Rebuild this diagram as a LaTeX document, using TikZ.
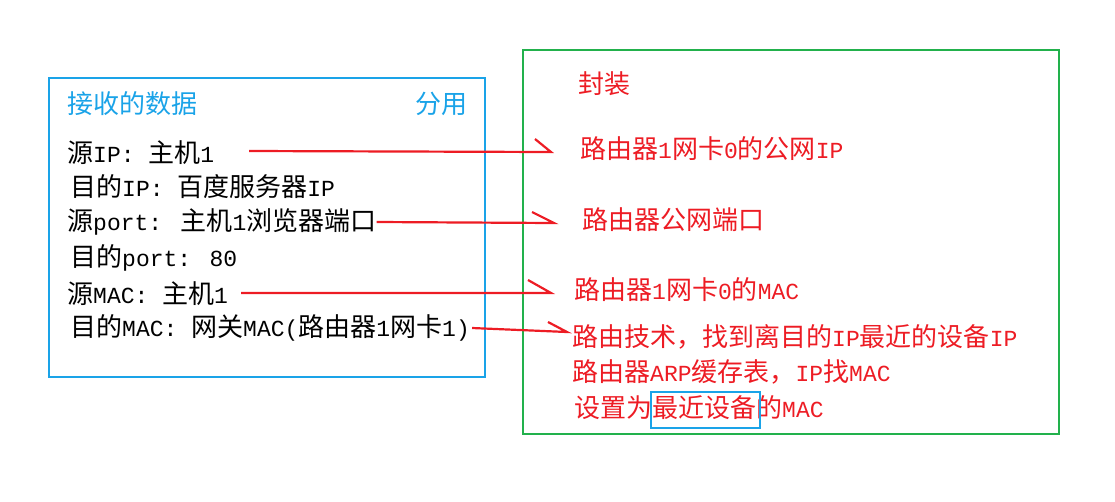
\documentclass[tikz,border=0pt]{standalone}
\usepackage{fontspec}
\setmainfont{Noto Sans CJK SC}
\newfontfamily\lm{Liberation Mono}
\newcommand{\m}[1]{{\lm\fontsize{23}{26}\selectfont #1}}
\definecolor{bblue}{HTML}{1AA3E8}
\definecolor{ggreen}{HTML}{22B14C}
\definecolor{rred}{HTML}{ED1C24}
\begin{document}
\begin{tikzpicture}[x=1pt,y=-1pt,
  t/.style={anchor=west,inner sep=0pt,font=\fontsize{26}{28}\selectfont},
  lt/.style={t,text=black},
  rt/.style={t,text=rred},
  arr/.style={draw=rred,line width=2.2pt}]
\useasboundingbox (0,0) rectangle (1115,501);
\draw[bblue,line width=2.5pt] (49,78) rectangle (485,377);
\draw[ggreen,line width=2.5pt] (523,50) rectangle (1059,434);
\node[t,text=bblue] (h1) at (67,104) {接收的数据};
\node[t,text=bblue,anchor=east] (h2) at (468,104) {分用};
\node[lt] (l1) at (67,153) {源\m{IP: }主机\m{1}};
\node[lt] (l2) at (70,187) {目的\m{IP: }百度服务器\m{IP}};
\node[lt] (l3) at (67,222) {源\m{port: }主机\m{1}浏览器端口};
\node[lt] (l4) at (70,258) {目的\m{port: 80}};
\node[lt] (l5) at (67,294) {源\m{MAC: }主机\m{1}};
\node[lt] (l6) at (70,328) {目的\m{MAC: }网关\m{MAC(}路由器\m{1}网卡\m{1)}};
\node[rt] (r0) at (578,84) {封装};
\node[rt] (r1) at (580,149) {路由器\m{1}网卡\m{0}的公网\m{IP}};
\node[rt] (r2) at (582,220) {路由器公网端口};
\node[rt] (r3) at (574,290) {路由器\m{1}网卡\m{0}的\m{MAC}};
\node[rt] (r4) at (572,337) {路由技术，找到离目的\m{IP}最近的设备\m{IP}};
\node[rt] (r5) at (572,372) {路由器\m{ARP}缓存表，\m{IP}找\m{MAC}};
\node[rt] (r6) at (574,408) {设置为最近设备的\m{MAC}};
\draw[bblue,line width=2.5pt] (651,392) rectangle (760,428);
\coordinate (e1) at (551,152); \coordinate (b1) at (535,139);
\coordinate (e2) at (554,223); \coordinate (b2) at (532,212);
\coordinate (e3) at (551,293); \coordinate (b3) at (528,280);
\coordinate (e4) at (567,332); \coordinate (b4) at (548,322);
\draw[arr] (249,151) -- (e1) -- (b1);
\draw[arr] (l3.east) -- (e2) -- (b2);
\draw[arr] (241,293) -- (e3) -- (b3);
\draw[arr] (l6.east) ++(2,0) -- (e4) -- (b4);
\end{tikzpicture}
\end{document}
